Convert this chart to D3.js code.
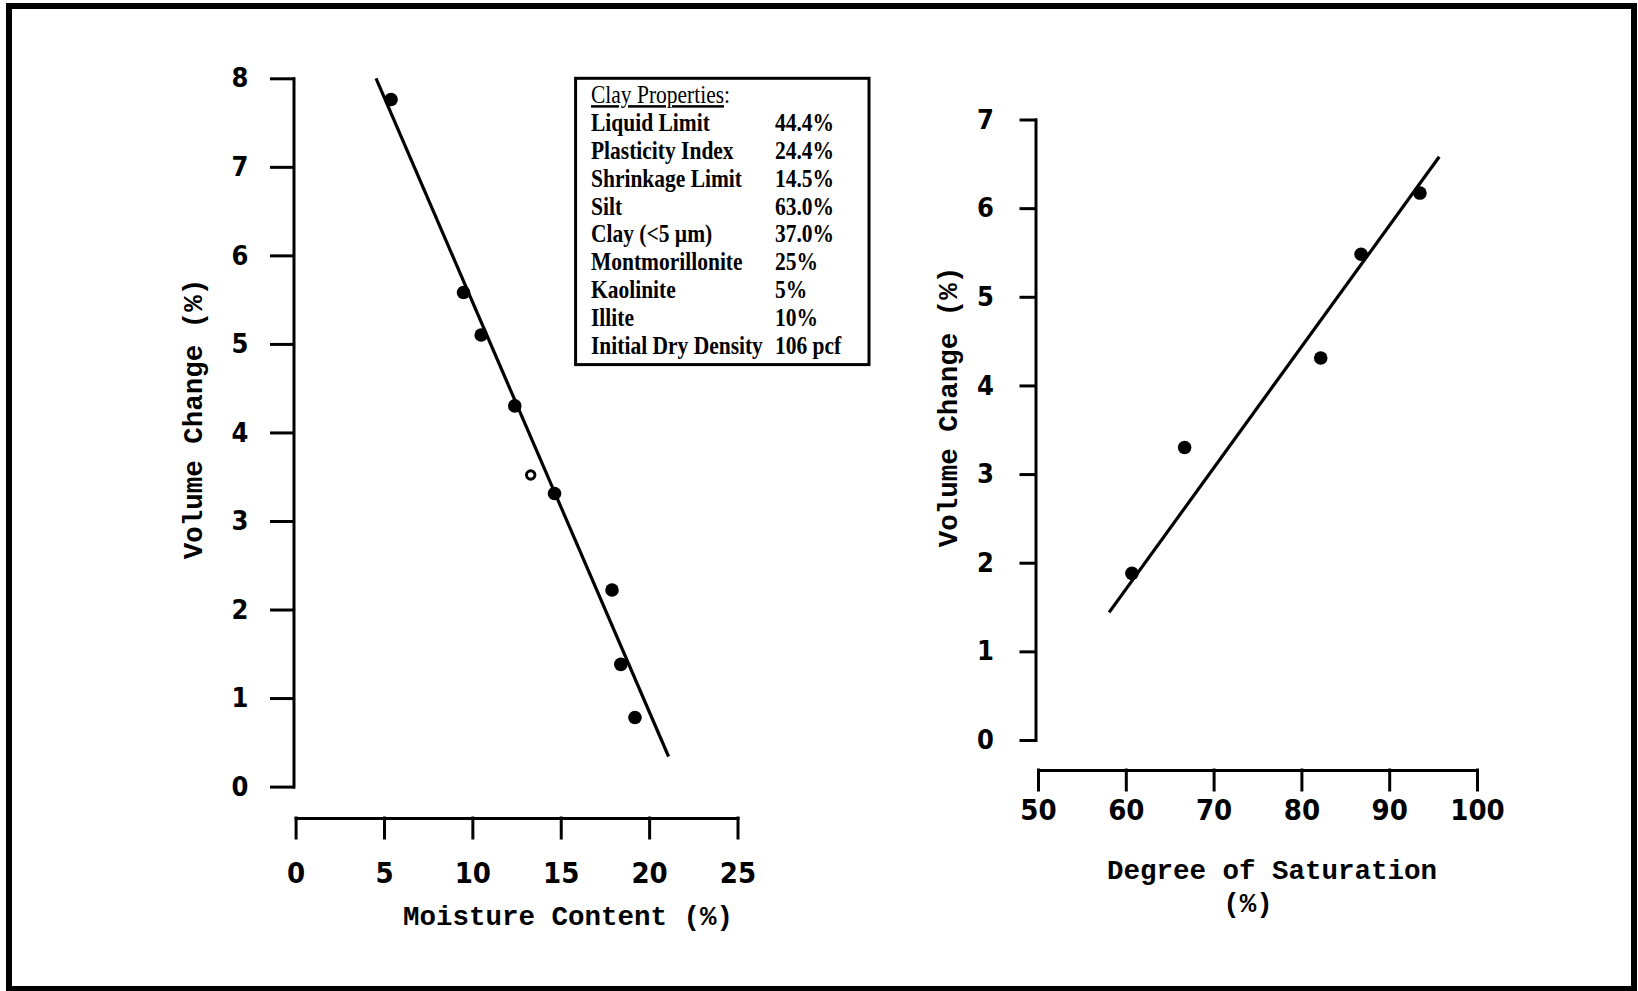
<!DOCTYPE html>
<html>
<head>
<meta charset="utf-8">
<script src="https://cdn.jsdelivr.net/npm/d3@7"></script>
<style>
  html, body { margin: 0; padding: 0; background: #fff; }
  svg { display: block; }
  .tick text { font-family: "Liberation Sans Narrow", "DejaVu Sans Condensed", sans-serif; font-weight: bold; font-size: 27px; fill: #000; }
  .x-axis .tick text { font-size: 29px; }
  .axis-title { font-family: "Liberation Mono", "DejaVu Sans Mono", monospace; font-weight: bold; font-size: 27.5px; fill: #000; }
  .props text { font-family: "Liberation Serif", "DejaVu Serif", serif; font-weight: bold; font-size: 25px; fill: #000; }
</style>
</head>
<body>
<svg id="chart" width="1638" height="991"></svg>
<script>
// left panel: volume change vs moisture content
const moisture = [5.4, 9.5, 10.5, 12.4, 13.3, 14.65, 17.9, 18.4, 19.2];
const volumeLeft = [7.76, 5.58, 5.10, 4.30, 3.52, 3.31, 2.22, 1.38, 0.78];
const hollowLeft = [false, false, false, false, true, false, false, false, false];
const fitLeftX = [4.55, 21.1];
const fitLeftY = [8.0, 0.34];
const leftXTicks = [0, 5, 10, 15, 20, 25];
const leftYTicks = [0, 1, 2, 3, 4, 5, 6, 7, 8];

// right panel: volume change vs degree of saturation
const saturation = [60.7, 66.7, 82.2, 86.8, 93.5];
const volumeRight = [1.88, 3.30, 4.31, 5.48, 6.17];
const fitRightX = [58.1, 95.7];
const fitRightY = [1.44, 6.58];
const rightXTicks = [50, 60, 70, 80, 90, 100];
const rightYTicks = [0, 1, 2, 3, 4, 5, 6, 7];

// clay properties table
const propTitle = 'Clay Properties';
const propLabels = ['Liquid Limit', 'Plasticity Index', 'Shrinkage Limit', 'Silt', 'Clay (<5 \u00b5m)',
  'Montmorillonite', 'Kaolinite', 'Illite', 'Initial Dry Density'];
const propValues = ['44.4%', '24.4%', '14.5%', '63.0%', '37.0%', '25%', '5%', '10%', '106 pcf'];

const svg = d3.select('#chart');

// outer frame
svg.append('rect')
  .attr('x', 9).attr('y', 6)
  .attr('width', 1625).attr('height', 983)
  .attr('fill', 'none').attr('stroke', '#000').attr('stroke-width', 6);

function drawPanel(opts) {
  const g = svg.append('g');
  const x = d3.scaleLinear().domain(opts.xDomain).range(opts.xRange);
  const y = d3.scaleLinear().domain(opts.yDomain).range(opts.yRange);

  // y axis (detached from x axis)
  const yAxis = g.append('g')
    .attr('transform', `translate(${opts.yAxisX},0)`)
    .call(d3.axisLeft(y).tickValues(opts.yTicks).tickFormat(d3.format('d'))
      .tickSize(opts.yTickSize).tickSizeOuter(0).tickPadding(opts.yPad));

  const xAxis = g.append('g')
    .attr('class', 'x-axis')
    .attr('transform', `translate(0,${opts.xAxisY})`)
    .call(d3.axisBottom(x).tickValues(opts.xTicks).tickFormat(d3.format('d'))
      .tickSize(20).tickSizeOuter(0).tickPadding(opts.xPad));

  [yAxis, xAxis].forEach(a => {
    a.selectAll('path, line').attr('stroke', '#000').attr('stroke-width', 3).attr('stroke-linecap', 'square');
  });

  // fitted line
  g.append('path')
    .datum(d3.zip(opts.fitX, opts.fitY))
    .attr('d', d3.line().x(d => x(d[0])).y(d => y(d[1])))
    .attr('fill', 'none').attr('stroke', '#000').attr('stroke-width', 3.2);

  // data points
  const pts = d3.zip(opts.px, opts.py, opts.hollow || opts.px.map(() => false));
  g.selectAll('circle.pt')
    .data(pts)
    .join('circle')
    .attr('class', 'pt')
    .attr('cx', d => x(d[0]))
    .attr('cy', d => y(d[1]))
    .attr('r', d => d[2] ? 4.2 : 6.8)
    .attr('fill', d => d[2] ? '#fff' : '#000')
    .attr('stroke', '#000')
    .attr('stroke-width', d => d[2] ? 3 : 0);

  return { x, y };
}

drawPanel({
  xDomain: [0, 25], xRange: [295.6, 737.5],
  yDomain: [0, 8], yRange: [786.6, 78.3],
  yAxisX: 293.5, xAxisY: 818, yTickSize: 22, yPad: 23, xPad: 24,
  xTicks: leftXTicks, yTicks: leftYTicks,
  fitX: fitLeftX, fitY: fitLeftY,
  px: moisture, py: volumeLeft, hollow: hollowLeft
});

drawPanel({
  xDomain: [50, 100], xRange: [1038, 1477],
  yDomain: [0, 7], yRange: [740, 119.5],
  yAxisX: 1035.5, xAxisY: 770, yTickSize: 14.5, yPad: 27, xPad: 9,
  xTicks: rightXTicks, yTicks: rightYTicks,
  fitX: fitRightX, fitY: fitRightY,
  px: saturation, py: volumeRight
});

// axis titles
svg.append('text').attr('class', 'axis-title')
  .attr('text-anchor', 'middle')
  .attr('transform', 'translate(202,419) rotate(-90)')
  .text('Volume Change (%)');
svg.append('text').attr('class', 'axis-title')
  .attr('text-anchor', 'middle')
  .attr('x', 568).attr('y', 925)
  .text('Moisture Content (%)');
svg.append('text').attr('class', 'axis-title')
  .attr('text-anchor', 'middle')
  .attr('transform', 'translate(957,407) rotate(-90)')
  .text('Volume Change (%)');
svg.append('text').attr('class', 'axis-title')
  .attr('text-anchor', 'middle')
  .attr('x', 1272).attr('y', 879)
  .text('Degree of Saturation');
svg.append('text').attr('class', 'axis-title')
  .attr('text-anchor', 'middle')
  .attr('x', 1248).attr('y', 912)
  .text('(%)');

// properties box
const props = svg.append('g').attr('class', 'props');
props.append('rect')
  .attr('x', 575.6).attr('y', 78.3)
  .attr('width', 293.4).attr('height', 286.3)
  .attr('fill', '#fff').attr('stroke', '#000').attr('stroke-width', 3);

// the scanned table uses a condensed face: squeeze each line horizontally
const squeeze = 0.86;
const rowY = d3.scaleLinear().domain([0, 9]).range([103, 354]);

const title = props.append('text')
  .attr('transform', `translate(591,${rowY(0)}) scale(${squeeze},1)`)
  .style('font-weight', 'normal');
title.append('tspan').attr('text-decoration', 'underline').text(propTitle);
title.append('tspan').text(':');

props.selectAll('text.lab')
  .data(propLabels)
  .join('text')
  .attr('class', 'lab')
  .attr('transform', (d, i) => `translate(591,${rowY(i + 1)}) scale(${squeeze},1)`)
  .text(d => d);

props.selectAll('text.val')
  .data(propValues)
  .join('text')
  .attr('class', 'val')
  .attr('transform', (d, i) => `translate(775,${rowY(i + 1)}) scale(${squeeze},1)`)
  .text(d => d);
</script>
</body>
</html>
